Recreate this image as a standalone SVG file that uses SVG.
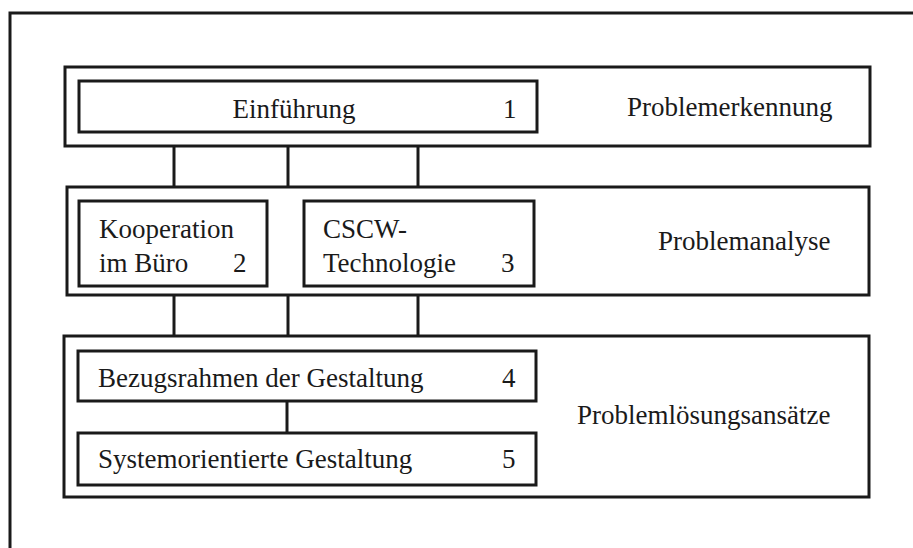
<svg xmlns="http://www.w3.org/2000/svg" width="913" height="548" viewBox="0 0 913 548">
<style>
rect{fill:none;stroke:#1a1a1a;stroke-width:3}
line,path{stroke:#1a1a1a;stroke-width:3;fill:none}
text{font-family:"Liberation Serif","Times New Roman",serif;font-size:27px;fill:#1a1a1a}
</style>
<rect x="0" y="0" width="913" height="548" style="fill:#fff;stroke:none"/>
<path id="frame" d="M10,548 V13 H913"/>
<g id="connectors">
<line x1="174" y1="146" x2="174" y2="187"/>
<line x1="288" y1="146" x2="288" y2="187"/>
<line x1="418" y1="146" x2="418" y2="187"/>
<line x1="174" y1="295" x2="174" y2="336"/>
<line x1="288" y1="295" x2="288" y2="336"/>
<line x1="418" y1="295" x2="418" y2="336"/>
<line x1="287" y1="401" x2="287" y2="433"/>
</g>
<g id="band1">
<rect x="65" y="67" width="805" height="79"/>
<text x="627" y="116">Problemerkennung</text>
</g>
<g id="node1">
<rect x="79" y="81" width="458" height="51"/>
<text x="294" y="118" text-anchor="middle">Einführung</text>
<text x="503" y="118">1</text>
</g>
<g id="band2">
<rect x="67" y="187" width="802" height="108"/>
<text x="658" y="250">Problemanalyse</text>
</g>
<g id="node2">
<rect x="79" y="201" width="188" height="85"/>
<text x="99" y="238">Kooperation</text>
<text x="99" y="272">im Büro</text>
<text x="233" y="272">2</text>
</g>
<g id="node3">
<rect x="304" y="201" width="230" height="85"/>
<text x="323" y="238">CSCW-</text>
<text x="323" y="272">Technologie</text>
<text x="501" y="272">3</text>
</g>
<g id="band3">
<rect x="64" y="336" width="805" height="161"/>
<text x="577" y="424">Problemlösungsansätze</text>
</g>
<g id="node4">
<rect x="78" y="351" width="458" height="50"/>
<text x="98" y="387">Bezugsrahmen der Gestaltung</text>
<text x="502" y="387">4</text>
</g>
<g id="node5">
<rect x="78" y="433" width="458" height="52"/>
<text x="98" y="468">Systemorientierte Gestaltung</text>
<text x="502" y="468">5</text>
</g>
</svg>
